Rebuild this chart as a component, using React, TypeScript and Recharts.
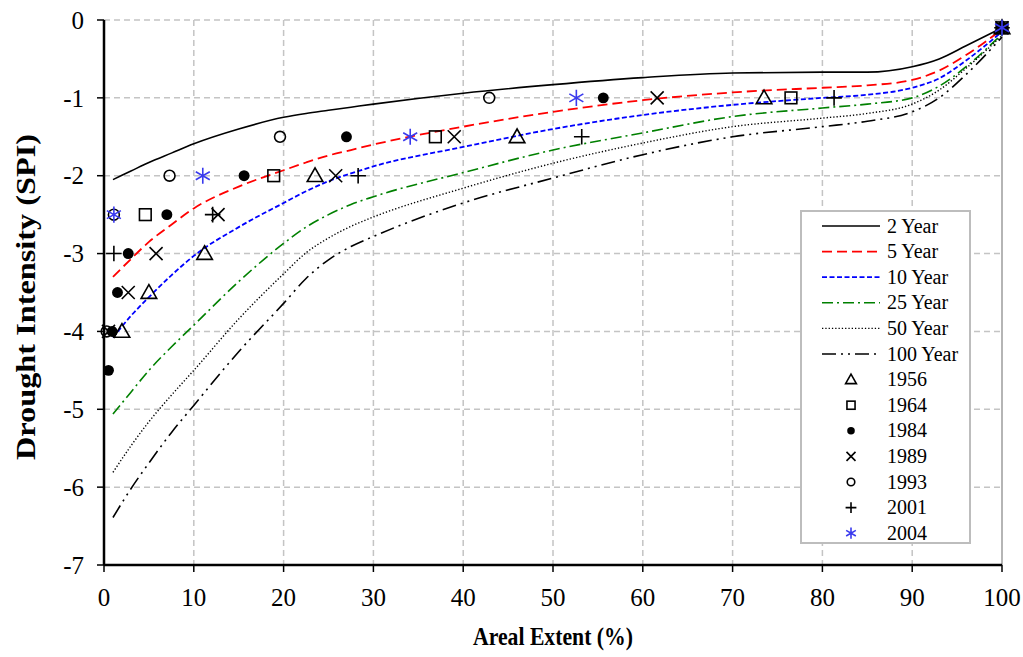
import React from 'react';
import { ComposedChart, Line, Scatter, XAxis, YAxis, CartesianGrid, ReferenceLine } from 'recharts';

// areal extent (%) used for the fitted SAF curves
const AREA = [1, 3, 5, 7.5, 10, 15, 20, 22.5, 25, 27.5, 30, 40, 50, 60, 70, 80, 85, 90, 93, 96, 100];
const Y2 = [-2.05, -1.94, -1.83, -1.71, -1.59, -1.4, -1.25, -1.2, -1.16, -1.12, -1.08, -0.94, -0.83, -0.74, -0.68, -0.67, -0.67, -0.6, -0.5, -0.33, -0.1];
const Y5 = [-3.3, -3.07, -2.85, -2.63, -2.42, -2.14, -1.93, -1.83, -1.74, -1.67, -1.6, -1.37, -1.18, -1.03, -0.93, -0.87, -0.84, -0.77, -0.65, -0.45, -0.12];
const Y10 = [-4.08, -3.8, -3.56, -3.28, -3.03, -2.66, -2.35, -2.2, -2.07, -1.97, -1.88, -1.63, -1.4, -1.22, -1.09, -1.0, -0.96, -0.87, -0.75, -0.52, -0.15];
const Y25 = [-5.06, -4.78, -4.5, -4.2, -3.92, -3.36, -2.87, -2.66, -2.5, -2.37, -2.27, -1.96, -1.67, -1.45, -1.24, -1.13, -1.08, -1.0, -0.85, -0.6, -0.18];
const Y50 = [-5.81, -5.47, -5.16, -4.82, -4.5, -3.84, -3.26, -2.99, -2.8, -2.65, -2.53, -2.16, -1.84, -1.58, -1.37, -1.26, -1.2, -1.08, -0.9, -0.62, -0.2];
const Y100 = [-6.39, -6.02, -5.69, -5.3, -4.95, -4.26, -3.64, -3.32, -3.08, -2.91, -2.78, -2.35, -2.03, -1.73, -1.5, -1.37, -1.3, -1.18, -1.0, -0.7, -0.22];

// observed drought events: areal extent and SPI threshold
const X1956 = [2.0, 5.0, 11.2, 23.5, 46, 73.5, 100];
const S1956 = [-4, -3.5, -3, -2, -1.5, -1, -0.1];
const X1964 = [4.6, 18.9, 36.9, 76.5, 100];
const S1964 = [-2.5, -2, -1.5, -1, -0.1];
const X1984 = [0.5, 0.9, 1.5, 2.7, 7.0, 15.6, 27, 55.6, 100];
const S1984 = [-4.5, -4, -3.5, -3, -2.5, -2, -1.5, -1, -0.1];
const X1989 = [0.5, 2.7, 5.8, 12.7, 25.8, 39, 61.6, 100];
const S1989 = [-4, -3.5, -3, -2.5, -2, -1.5, -1, -0.1];
const X1993 = [0.3, 1.1, 7.3, 19.6, 42.9, 100];
const S1993 = [-4, -2.5, -2, -1.5, -1, -0.1];
const X2001 = [1.1, 12.1, 28.3, 53.2, 81.3, 100];
const S2001 = [-3, -2.5, -2, -1.5, -1, -0.1];
const X2004 = [1.1, 11.0, 34.1, 52.6, 100];
const S2004 = [-2.5, -2, -1.5, -1, -0.1];

const X_TICKS = [0, 10, 20, 30, 40, 50, 60, 70, 80, 90, 100];
const Y_TICKS = [-7, -6, -5, -4, -3, -2, -1, 0];
const X_MINOR = [5, 15, 25, 35, 45, 55, 65, 75, 85, 95];
const Y_MINOR = [-6.5, -5.5, -4.5, -3.5, -2.5, -1.5, -0.5];

const FONT = '"Liberation Serif", "Times New Roman", serif';
const BLUE_STAR = '#3a3aee';

const toPts = (xs: number[], ys: number[]) => xs.map((x, i) => ({ x, y: ys[i] }));

const curves = [
  { name: '2 Year', ys: Y2, color: '#000000', dash: undefined, width: 1.6 },
  { name: '5 Year', ys: Y5, color: '#ff0000', dash: '10 5', width: 1.8 },
  { name: '10 Year', ys: Y10, color: '#0000ff', dash: '5 2.5', width: 1.8 },
  { name: '25 Year', ys: Y25, color: '#008000', dash: '11 4 2 4', width: 1.6 },
  { name: '50 Year', ys: Y50, color: '#000000', dash: '1.3 2', width: 1.4 },
  { name: '100 Year', ys: Y100, color: '#000000', dash: '14 5 2 5 2 5', width: 1.6 },
];

const events = [
  { name: '1956', xs: X1956, ys: S1956, kind: 'tri' },
  { name: '1964', xs: X1964, ys: S1964, kind: 'sq' },
  { name: '1984', xs: X1984, ys: S1984, kind: 'dot' },
  { name: '1989', xs: X1989, ys: S1989, kind: 'x' },
  { name: '1993', xs: X1993, ys: S1993, kind: 'circ' },
  { name: '2001', xs: X2001, ys: S2001, kind: 'plus' },
  { name: '2004', xs: X2004, ys: S2004, kind: 'star' },
];

const drawMarker = (kind: string, cx: number, cy: number, s: number) => {
  const sw = 1.6;
  switch (kind) {
    case 'tri':
      return <path d={`M${cx},${cy - s * 0.6}L${cx + s * 0.6},${cy + s * 0.45}L${cx - s * 0.6},${cy + s * 0.45}Z`} fill="none" stroke="#000" strokeWidth={sw} />;
    case 'sq':
      return <rect x={cx - s * 0.45} y={cy - s * 0.45} width={s * 0.9} height={s * 0.9} fill="none" stroke="#000" strokeWidth={sw} />;
    case 'dot':
      return <circle cx={cx} cy={cy} r={s * 0.42} fill="#000" />;
    case 'x':
      return <path d={`M${cx - s / 2},${cy - s / 2}L${cx + s / 2},${cy + s / 2}M${cx + s / 2},${cy - s / 2}L${cx - s / 2},${cy + s / 2}`} stroke="#000" strokeWidth={sw} />;
    case 'circ':
      return <circle cx={cx} cy={cy} r={s * 0.42} fill="none" stroke="#000" strokeWidth={sw} />;
    case 'plus':
      return <path d={`M${cx - s * 0.6},${cy}L${cx + s * 0.6},${cy}M${cx},${cy - s * 0.6}L${cx},${cy + s * 0.6}`} stroke="#000" strokeWidth={sw} />;
    default: {
      const h = s * 0.62;
      const dx = h * 0.87;
      const dy = h * 0.5;
      return <path d={`M${cx},${cy - h}L${cx},${cy + h}M${cx - dx},${cy - dy}L${cx + dx},${cy + dy}M${cx + dx},${cy - dy}L${cx - dx},${cy + dy}`} stroke={BLUE_STAR} strokeWidth={sw} />;
    }
  }
};

const shapeFor = (kind: string) => (props: any) => <g>{drawMarker(kind, props.cx, props.cy, 13)}</g>;

const XTick = (props: any) => (
  <text x={props.x} y={props.y} dy="0.71em" textAnchor="middle" fontFamily={FONT} fontSize={25} fill="#000">
    {props.payload.value}
  </text>
);

const YTick = (props: any) => (
  <text x={props.x} y={props.y} dy="0.35em" textAnchor="end" fontFamily={FONT} fontSize={25} fill="#000">
    {props.payload.value}
  </text>
);

const LegendBox = () => {
  const rows = [...curves.map((c) => ({ type: 'line', c })), ...events.map((e) => ({ type: 'mark', e }))] as any[];
  return (
    <svg width={172} height={335} style={{ position: 'absolute', left: 800, top: 210 }}>
      <rect x={1} y={1} width={169} height={332} fill="#fff" stroke="#bdbdbd" strokeWidth={2} />
      {rows.map((r, i) => {
        const cy = 16 + i * 25.6;
        const label = r.type === 'line' ? r.c.name : r.e.name;
        return (
          <g key={label}>
            {r.type === 'line' ? (
              <line x1={22} x2={80} y1={cy} y2={cy} stroke={r.c.color} strokeWidth={r.c.width} strokeDasharray={r.c.dash} />
            ) : (
              drawMarker(r.e.kind, 51, cy, 9)
            )}
            <text x={87} y={cy + 6.5} fontFamily={FONT} fontSize={20} fill="#000">{label}</text>
          </g>
        );
      })}
    </svg>
  );
};

const App = () => {
  return (
    <div style={{ position: 'absolute', left: 0, top: 0, width: 1023, height: 657 }}>
      <ComposedChart width={1023} height={657} margin={{ top: 20, right: 21, bottom: 0, left: 0 }}>
        <CartesianGrid stroke="#c4c4c4" strokeWidth={1.5} strokeDasharray="6 4" horizontalValues={Y_TICKS} verticalValues={X_TICKS} />
        <XAxis xAxisId="m" type="number" dataKey="x" domain={[0, 100]} ticks={X_MINOR} height={0} tick={false} tickSize={5} axisLine={false} tickLine={{ stroke: '#000', strokeWidth: 1.5 }} />
        <XAxis
          type="number"
          dataKey="x"
          domain={[0, 100]}
          ticks={X_TICKS}
          height={92}
          interval={0}
          tick={<XTick />}
          tickSize={7}
          tickMargin={16}
          axisLine={{ stroke: '#000', strokeWidth: 2.5 }}
          tickLine={{ stroke: '#000', strokeWidth: 1.5 }}
          label={{
            content: () => (
              <text x={553} y={645} textAnchor="middle" fontFamily={FONT} fontSize={26} fontWeight="bold" fill="#000" textLength={160} lengthAdjust="spacingAndGlyphs">Areal Extent  (%)</text>
            ),
          }}
        />
        <YAxis yAxisId="m" type="number" domain={[-7, 0]} ticks={Y_MINOR} width={0} tick={false} tickSize={5} axisLine={false} tickLine={{ stroke: '#000', strokeWidth: 1.5 }} />
        <YAxis
          type="number"
          domain={[-7, 0]}
          ticks={Y_TICKS}
          width={104}
          interval={0}
          tick={<YTick />}
          tickSize={7}
          tickMargin={13}
          axisLine={{ stroke: '#000', strokeWidth: 2.5 }}
          tickLine={{ stroke: '#000', strokeWidth: 1.5 }}
          label={{
            content: () => (
              <text x={29} y={297} transform="rotate(-90 29 297)" textAnchor="middle" dominantBaseline="middle" fontFamily={FONT} fontSize={27} fontWeight="bold" fill="#000" textLength={326} lengthAdjust="spacingAndGlyphs">Drought Intensity (SPI)</text>
            ),
          }}
        />
        <ReferenceLine x={100} stroke="#b5b5b5" strokeWidth={2} />
        {curves.map((c) => (
          <Line
            key={c.name}
            data={toPts(AREA, c.ys)}
            dataKey="y"
            type="monotone"
            stroke={c.color}
            strokeWidth={c.width}
            strokeDasharray={c.dash}
            dot={false}
            activeDot={false}
            isAnimationActive={false}
          />
        ))}
        {events.map((e) => (
          <Scatter key={e.name} data={toPts(e.xs, e.ys)} dataKey="y" shape={shapeFor(e.kind)} isAnimationActive={false} />
        ))}
      </ComposedChart>
      <LegendBox />
    </div>
  );
};

export default App;
